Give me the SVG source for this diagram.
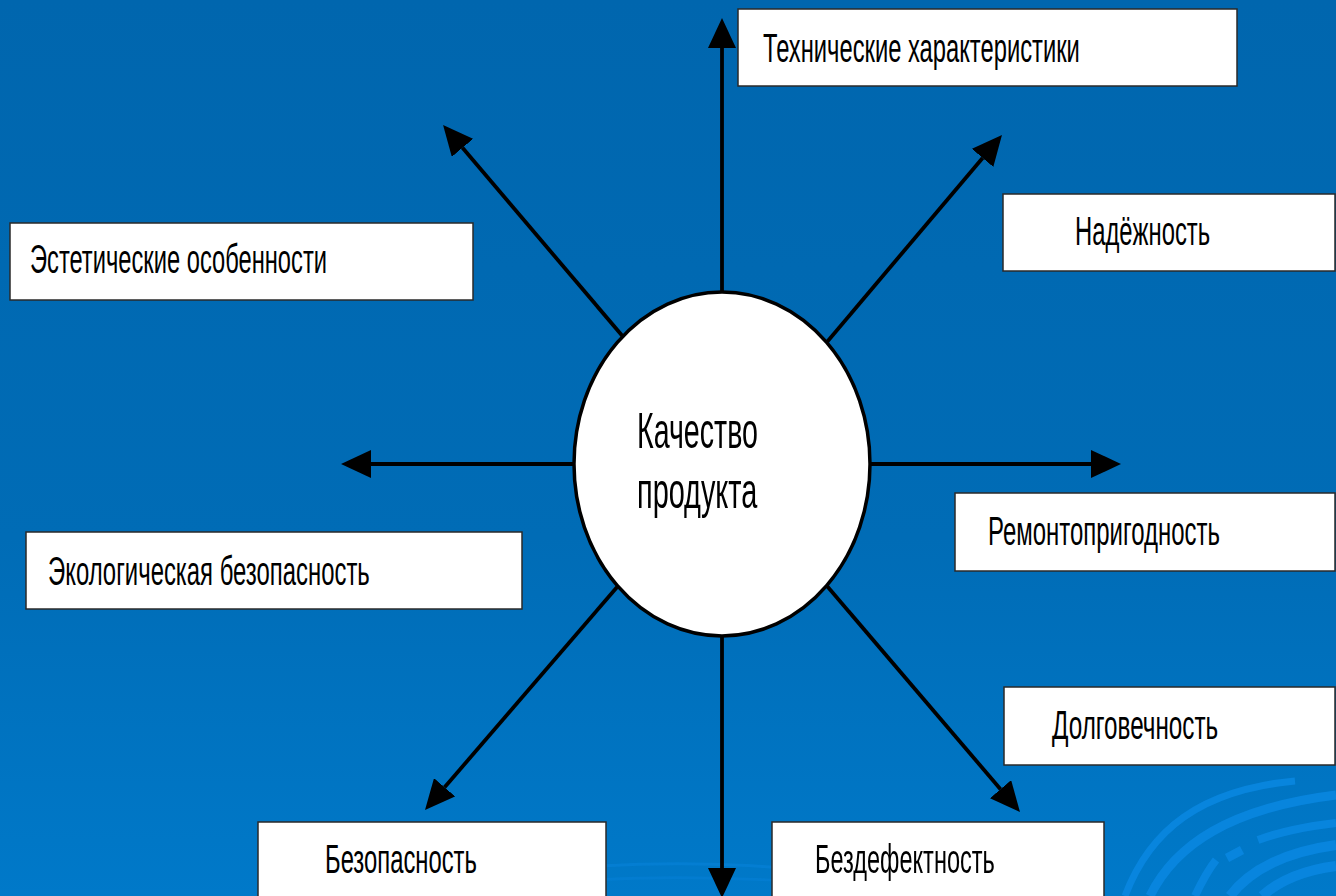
<svg xmlns="http://www.w3.org/2000/svg" width="1336" height="896" viewBox="0 0 1336 896">
  <defs>
    <linearGradient id="bg" x1="0" y1="0" x2="0" y2="1">
      <stop offset="0" stop-color="#0066ae"/>
      <stop offset="0.6" stop-color="#006cb6"/>
      <stop offset="1" stop-color="#0079c9"/>
    </linearGradient>
    <marker id="head" viewBox="0 0 30 28" refX="0" refY="14" markerWidth="30" markerHeight="28" markerUnits="userSpaceOnUse" orient="auto">
      <path d="M0,0 L30,14 L0,28 Z" fill="#000"/>
    </marker>
    <style>
      .box { fill: #ffffff; stroke: #2a2a2a; stroke-width: 1.5; }
      .lbl { font-family: "Liberation Sans", Arial, sans-serif; font-size: 41px; fill: #000; }
      .ctr { font-family: "Liberation Sans", Arial, sans-serif; font-size: 50px; fill: #000; }
      .arr { stroke: #000; stroke-width: 3.8; fill: none; marker-end: url(#head); }
      .swirl { fill: none; stroke: #0a88e2; stroke-linecap: butt; }
    </style>
  </defs>

  <!-- background -->
  <rect x="0" y="0" width="1336" height="896" fill="url(#bg)"/>

  <!-- decorative swirls, lower right -->
  <g opacity="0.85">
    <path class="swirl" stroke-width="7" d="M1125,896 C1150,830 1200,790 1295,781"/>
    <path class="swirl" stroke-width="9" d="M1150,896 C1175,845 1230,808 1336,795"/>
    <path class="swirl" stroke-width="8" d="M1195,896 C1205,875 1212,865 1216,860"/>
    <path class="swirl" stroke-width="9" d="M1227,858 L1242,850"/>
    <path class="swirl" stroke-width="8" d="M1258,840 C1285,830 1310,826 1336,823"/>
    <path class="swirl" stroke-width="10" d="M1230,896 C1250,870 1285,852 1336,845"/>
    <path class="swirl" stroke-width="10" d="M1262,896 C1280,880 1305,870 1336,866"/>
    <path class="swirl" stroke-width="3" opacity="0.5" d="M600,866 C700,860 800,866 880,880"/>
    <path class="swirl" stroke-width="3" opacity="0.4" d="M590,880 C700,874 820,880 900,893"/>
  </g>

  <!-- connectors -->
  <g id="connectors">
    <line class="arr" x1="722" y1="300" x2="722" y2="48"/>
    <line class="arr" x1="722" y1="630" x2="722" y2="868"/>
    <line class="arr" x1="580" y1="464" x2="371" y2="464"/>
    <line class="arr" x1="865" y1="464" x2="1091" y2="464"/>
    <line class="arr" x1="625" y1="339" x2="462.5" y2="147.8"/>
    <line class="arr" x1="827" y1="342" x2="982.6" y2="157.9"/>
    <line class="arr" x1="618" y1="586" x2="444.6" y2="787.3"/>
    <line class="arr" x1="827" y1="586" x2="1000.5" y2="789.2"/>
  </g>

  <!-- central node -->
  <g id="node-quality">
    <ellipse cx="722" cy="464" rx="148" ry="172" fill="#fff" stroke="#000" stroke-width="3.5"/>
    <text class="ctr" transform="translate(637,448) scale(0.62,1)" textLength="195" lengthAdjust="spacingAndGlyphs">Качество</text>
    <text class="ctr" transform="translate(637,508) scale(0.62,1)" textLength="194" lengthAdjust="spacingAndGlyphs">продукта</text>
  </g>

  <!-- label boxes: text is narrowed horizontally -->
  <g id="node-tech">
    <rect class="box" x="738" y="9" width="499" height="77"/>
    <text class="lbl" transform="translate(763,62) scale(0.62,1)" textLength="511" lengthAdjust="spacingAndGlyphs">Технические характеристики</text>
  </g>

  <g id="node-reliability">
    <rect class="box" x="1003" y="194" width="332" height="77"/>
    <text class="lbl" transform="translate(1075,245) scale(0.62,1)" textLength="218" lengthAdjust="spacingAndGlyphs">Надёжность</text>
  </g>

  <g id="node-repairability">
    <rect class="box" x="955" y="493" width="380" height="78"/>
    <text class="lbl" transform="translate(988,545) scale(0.62,1)" textLength="374" lengthAdjust="spacingAndGlyphs">Ремонтопригодность</text>
  </g>

  <g id="node-durability">
    <rect class="box" x="1004" y="687" width="331" height="78"/>
    <text class="lbl" transform="translate(1052,739) scale(0.62,1)" textLength="268" lengthAdjust="spacingAndGlyphs">Долговечность</text>
  </g>

  <g id="node-defectless">
    <rect class="box" x="772" y="822" width="332" height="90"/>
    <text class="lbl" transform="translate(815,873) scale(0.62,1)" textLength="290" lengthAdjust="spacingAndGlyphs">Бездефектность</text>
  </g>

  <g id="node-safety">
    <rect class="box" x="258" y="822" width="348" height="90"/>
    <text class="lbl" transform="translate(325,873) scale(0.62,1)" textLength="245" lengthAdjust="spacingAndGlyphs">Безопасность</text>
  </g>

  <g id="node-ecology">
    <rect class="box" x="26" y="532" width="496" height="77"/>
    <text class="lbl" transform="translate(48,585) scale(0.62,1)" textLength="519" lengthAdjust="spacingAndGlyphs">Экологическая безопасность</text>
  </g>

  <g id="node-aesthetics">
    <rect class="box" x="10" y="223" width="463" height="77"/>
    <text class="lbl" transform="translate(30,273) scale(0.62,1)" textLength="479" lengthAdjust="spacingAndGlyphs">Эстетические особенности</text>
  </g>
</svg>
